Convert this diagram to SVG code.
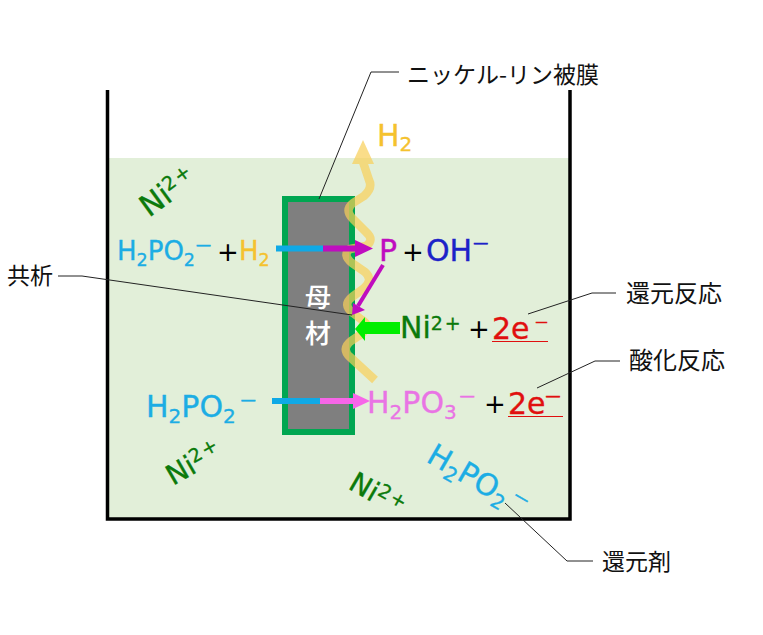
<svg xmlns="http://www.w3.org/2000/svg" width="763" height="635" viewBox="0 0 763 635">
<style>
text{font-family:"DejaVu Sans","Noto Sans CJK JP",sans-serif;font-size:30px;stroke-width:.35px}
.jp{font-family:"Noto Sans CJK JP",sans-serif;font-size:23px;fill:#111}
.sm{font-size:26px}
.b{fill:#1cade4;stroke:#1cade4}.y{fill:#f5c22e;stroke:#f5c22e}.k{fill:#000}.g{fill:#0b7a0b;stroke:#0b7a0b}.r{fill:#e00f0f;stroke:#e00f0f}.p{fill:#bf0dbf;stroke:#bf0dbf}.v{fill:#e974e4;stroke:#e974e4}.n{fill:#1c22c8;stroke:#1c22c8}
.s{font-size:20px}.s2{font-size:17.500px}.u{font-size:19px;letter-spacing:2px}
.d{font-size:15px;stroke-width:.6px}
.lead{fill:none;stroke:#222;stroke-width:1}
</style>
<rect width="763" height="635" fill="#fff"/>
<g id="liquid"><rect x="109" y="158" width="460" height="360" fill="#e2efd9"/></g>
<g id="tank"><path d="M107.500 90V519H570V90" fill="none" stroke="#000" stroke-width="3.500"/></g>
<g id="base">
<rect x="285" y="199" width="67" height="233" fill="#7f7f7f" stroke="#00a651" stroke-width="6"/>
<text x="318" y="307" text-anchor="middle" style="font-family:'Noto Sans CJK JP',sans-serif;font-size:26px;font-weight:500" fill="#fff">母</text>
<text x="318" y="343" text-anchor="middle" style="font-family:'Noto Sans CJK JP',sans-serif;font-size:26px;font-weight:500" fill="#fff">材</text>
</g>
<g id="hydrogen-wave" opacity="0.7">
<path d="M375 380L350 357Q341 349 351 341L360 335Q372 326 362 320L353 313Q342 305 352 297L363 289Q374 280 365 272L352 263Q342 255 350 249L366 246Q375 240 366 232L353 219Q344 210 353 203L364 196Q373 188 369 180L363 162" fill="none" stroke="#f9d058" stroke-width="8.500" stroke-linejoin="round"/>
<path d="M363 140L374 164H352Z" fill="#f9d058"/>
</g>
<g id="connectors">
<path d="M276 248.500H323" stroke="#0fa9e6" stroke-width="6" fill="none"/>
<path d="M323 248.500H355" stroke="#bf0dbf" stroke-width="6" fill="none"/>
<path d="M355 240L373 248.500L355 257Z" fill="#bf0dbf"/>
<path d="M383 265L358 306" stroke="#bf0dbf" stroke-width="4" fill="none"/>
<path d="M352 315L353 303L365 310Z" fill="#bf0dbf"/>
<path d="M400 328H364" stroke="#00ee00" stroke-width="12" fill="none"/>
<path d="M355 329L365 317V341Z" fill="#00ee00"/>
<path d="M272 401H320" stroke="#0fa9e6" stroke-width="6" fill="none"/>
<path d="M320 401H354" stroke="#f766e8" stroke-width="6" fill="none"/>
<path d="M353 393L370 401L353 409Z" fill="#f766e8"/>
<path class="lead" d="M319 199L371 72H399"/>
<path class="lead" d="M58 276H82L352 315"/>
<path class="lead" d="M528 314L592 293H616"/>
<path class="lead" d="M537 388L595 361H620"/>
<path class="lead" d="M505 503L567 561H593"/>
</g>
<g id="label-film"><text class="jp" x="407" y="83">ニッケル-リン被膜</text></g>
<g id="label-h2"><text x="377" y="146" class="y">H<tspan class="s" dy="5">2</tspan></text></g>
<g id="label-ni-1"><text transform="translate(149 218) rotate(-36)" class="g">Ni<tspan class="u" dy="-10">2+</tspan></text></g>
<g id="label-eq1">
<text x="117" y="260" class="b sm">H<tspan class="s2" dy="6">2</tspan><tspan class="sm" dy="-6">PO</tspan><tspan class="s2" dy="6">2</tspan><tspan class="d" dx="1" dy="-16">—</tspan></text>
<text x="217" y="261" class="k sm">+</text>
<text x="239" y="260" class="y sm">H<tspan class="s2" dy="6">2</tspan></text>
</g>
<g id="label-p">
<text x="379" y="261" class="p">P</text>
<text x="402" y="261" class="k sm">+</text>
<text x="426" y="261" class="n">OH<tspan class="d" dx="1" dy="-13">—</tspan></text>
</g>
<g id="label-kyoseki"><text class="jp" x="7" y="284">共析</text></g>
<g id="label-ni-eq">
<text x="400" y="338" class="g">Ni<tspan class="u" dy="-8">2+</tspan></text>
<text x="468" y="338" class="k sm">+</text>
<text x="492" y="339" class="r">2e<tspan class="d" style="font-size:12px" dx="6" dy="-13">—</tspan></text>
<path d="M492 341.500H548" stroke="#e00f0f" stroke-width="1.200"/>
</g>
<g id="label-reduction"><text class="jp" style="font-size:24px" x="626" y="302">還元反応</text></g>
<g id="label-oxidation"><text class="jp" style="font-size:24px" x="629" y="369">酸化反応</text></g>
<g id="label-eq2">
<text x="146" y="417" class="b">H<tspan class="s" dy="6">2</tspan><tspan dy="-6">PO</tspan><tspan class="s" dy="6">2</tspan><tspan class="d" dx="5" dy="-18">—</tspan></text>
</g>
<g id="label-eq3">
<text x="367" y="413" class="v">H<tspan class="s" dy="6">2</tspan><tspan dy="-6">PO</tspan><tspan class="s" dy="6">3</tspan><tspan class="d" dx="3" dy="-18">—</tspan></text>
<text x="484" y="413" class="k sm">+</text>
<text x="508" y="414" class="r">2e<tspan class="d" dy="-13">—</tspan></text>
<path d="M508 416.500H563" stroke="#e00f0f" stroke-width="1.200"/>
</g>
<g id="label-ni-2"><text transform="translate(173 486) rotate(-30)" class="g sm" style="font-size:28px">Ni<tspan class="u" dy="-9">2+</tspan></text></g>
<g id="label-ni-3"><text transform="translate(347 488) rotate(30)" class="g" style="font-size:28px">Ni<tspan class="u" dy="-9">2+</tspan></text></g>
<g id="label-reducer"><text transform="translate(425 461) rotate(30)" class="b">H<tspan class="s" dy="6">2</tspan><tspan dy="-6">PO</tspan><tspan class="s" dy="6">2</tspan><tspan class="d" dx="5" dy="-18">—</tspan></text></g>
<g id="label-zai"><text class="jp" x="602" y="570">還元剤</text></g>
</svg>
